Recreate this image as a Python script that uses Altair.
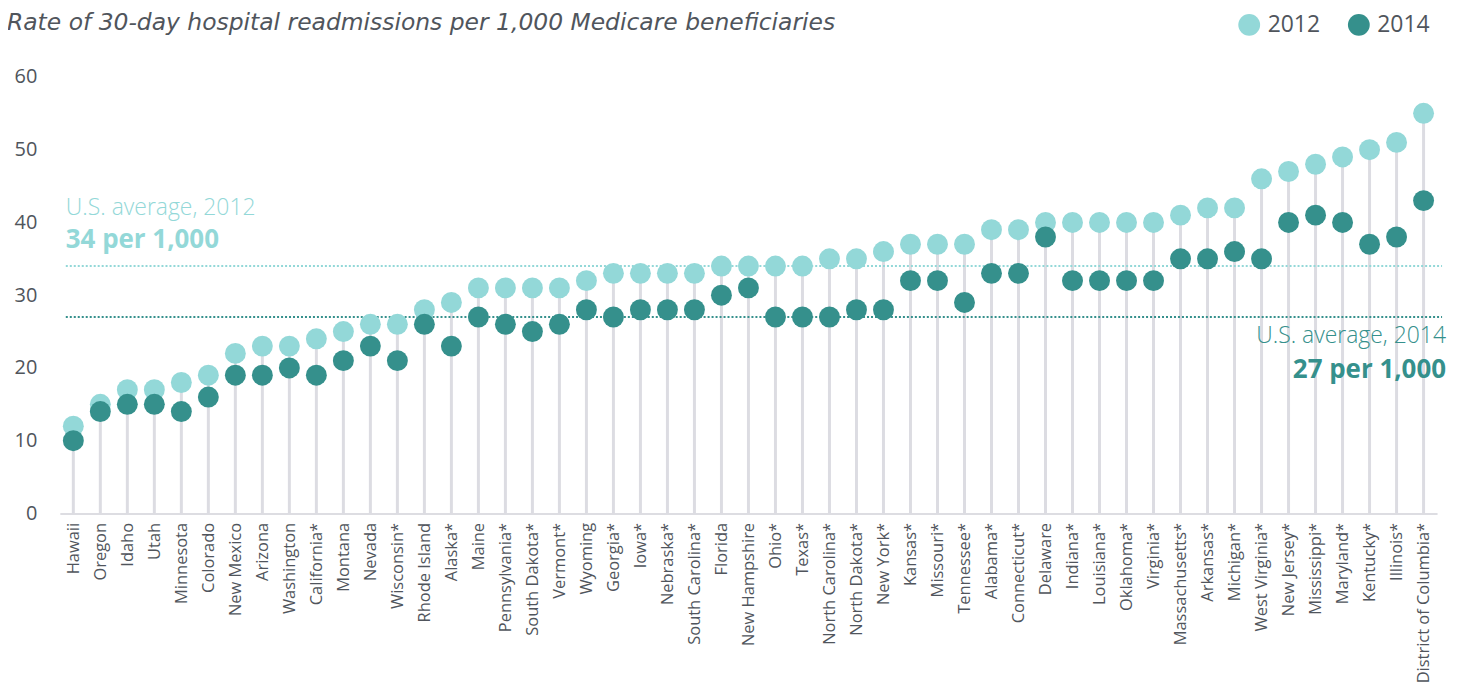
import altair as alt
import pandas as pd

# ---------------- data ----------------
states = ["Hawaii", "Oregon", "Idaho", "Utah", "Minnesota", "Colorado", "New Mexico",
          "Arizona", "Washington", "California*", "Montana", "Nevada", "Wisconsin*",
          "Rhode Island", "Alaska*", "Maine", "Pennsylvania*", "South Dakota*", "Vermont*",
          "Wyoming", "Georgia*", "Iowa*", "Nebraska*", "South Carolina*", "Florida",
          "New Hampshire", "Ohio*", "Texas*", "North Carolina*", "North Dakota*", "New York*",
          "Kansas*", "Missouri*", "Tennessee*", "Alabama*", "Connecticut*", "Delaware",
          "Indiana*", "Louisiana*", "Oklahoma*", "Virginia*", "Massachusetts*", "Arkansas*",
          "Michigan*", "West Virginia*", "New Jersey*", "Mississippi*", "Maryland*",
          "Kentucky*", "Illinois*", "District of Columbia*"]

v2012 = [12, 15, 17, 17, 18, 19, 22, 23, 23, 24, 25, 26, 26, 28, 29, 31, 31, 31, 31, 32,
         33, 33, 33, 33, 34, 34, 34, 34, 35, 35, 36, 37, 37, 37, 39, 39, 40, 40, 40, 40,
         40, 41, 42, 42, 46, 47, 48, 49, 50, 51, 55]

v2014 = [10, 14, 15, 15, 14, 16, 19, 19, 20, 19, 21, 23, 21, 26, 23, 27, 26, 25, 26, 28,
         27, 28, 28, 28, 30, 31, 27, 27, 27, 28, 28, 32, 32, 29, 33, 33, 38, 32, 32, 32,
         32, 35, 35, 36, 35, 40, 41, 40, 37, 38, 43]

years = ["2012", "2014"]
averages = [34, 27]
avg_labels = ["U.S. average, 2012", "U.S. average, 2014"]
avg_values = ["34 per 1,000", "27 per 1,000"]
y_ticks = [0, 10, 20, 30, 40, 50, 60]
title_text = "Rate of 30-day hospital readmissions per 1,000 Medicare beneficiaries"

# ---------------- style ----------------
LIGHT = "#93D8D8"
DARK = "#35908C"
TEXT = "#50555C"
STEM = "#DCDCE2"
FONT = "Open Sans"
W, H = 1382, 438

wide = pd.DataFrame({"state": states, "v2012": v2012, "v2014": v2014})
long = pd.concat([
    pd.DataFrame({"state": states, "year": years[0], "value": v2012}),
    pd.DataFrame({"state": states, "year": years[1], "value": v2014}),
], ignore_index=True)

x_enc = alt.X("state:N", sort=states, title=None,
              scale=alt.Scale(type="point", padding=0.5),
              axis=alt.Axis(labelAngle=-90, labelFontSize=16.5, labelColor=TEXT,
                            labelFont=FONT, ticks=False, domainColor="#DDDDE2",
                            domainWidth=2, labelPadding=9, labelAlign="right",
                            labelBaseline="middle", labelOverlap=False))

y_scale = alt.Scale(domain=[0, 60], nice=False)
y_axis = alt.Axis(values=y_ticks, grid=False, domain=False, ticks=False,
                  labelFontSize=20, labelPadding=23, labelColor=TEXT, labelFont=FONT)

stems = alt.Chart(wide).mark_rule(color=STEM, strokeWidth=3).encode(
    x=x_enc,
    y=alt.Y("v2012:Q", scale=y_scale, axis=y_axis, title=None),
    y2=alt.datum(0),
)

rule_2012 = alt.Chart().mark_rule(strokeDash=[2, 2], strokeWidth=2, color=LIGHT).encode(
    y=alt.datum(averages[0]), x=alt.value(6), x2=alt.value(W + 5))
rule_2014 = alt.Chart().mark_rule(strokeDash=[2, 2], strokeWidth=2, color=DARK).encode(
    y=alt.datum(averages[1]), x=alt.value(6), x2=alt.value(W + 5))

points = alt.Chart(long).mark_circle(size=441, opacity=1).encode(
    x=x_enc,
    y=alt.Y("value:Q"),
    color=alt.Color("year:N", scale=alt.Scale(domain=years, range=[LIGHT, DARK]),
                    legend=alt.Legend(title=None, orient="none", legendX=1182, legendY=-64,
                                      direction="horizontal", symbolSize=480,
                                      symbolType="circle", labelFontSize=23,
                                      labelFont=FONT, labelColor=TEXT, columnPadding=27,
                                      labelOffset=7, padding=0, symbolStrokeWidth=0,
                                      symbolOpacity=1)),
)

ann1a = alt.Chart().mark_text(align="left", baseline="alphabetic", fontSize=23,
                              fontWeight=300, color=LIGHT, font=FONT, dy=-51).encode(
    x=alt.value(6), y=alt.datum(averages[0]), text=alt.value(avg_labels[0]))
ann1b = alt.Chart().mark_text(align="left", baseline="alphabetic", fontSize=26,
                              fontWeight="bold", color=LIGHT, font=FONT, dy=-18).encode(
    x=alt.value(6), y=alt.datum(averages[0]), text=alt.value(avg_values[0]))
ann2a = alt.Chart().mark_text(align="right", baseline="alphabetic", fontSize=23,
                              fontWeight=300, color=DARK, font=FONT, dy=26).encode(
    x=alt.value(W + 9), y=alt.datum(averages[1]), text=alt.value(avg_labels[1]))
ann2b = alt.Chart().mark_text(align="right", baseline="alphabetic", fontSize=26,
                              fontWeight="bold", color=DARK, font=FONT, dy=61).encode(
    x=alt.value(W + 9), y=alt.datum(averages[1]), text=alt.value(avg_values[1]))

title = alt.Chart().mark_text(align="left", baseline="alphabetic", fontSize=23.5,
                              fontStyle="italic", color=TEXT, font="DejaVu Sans").encode(
    x=alt.value(-53), y=alt.value(-47), text=alt.value(title_text))

chart = alt.layer(stems, rule_2012, rule_2014, points, ann1a, ann1b, ann2a, ann2b, title).properties(
    width=W, height=H,
    autosize=alt.AutoSizeParams(type="none"),
    padding={"left": 52, "top": 68, "right": 20, "bottom": 172},
).configure_view(stroke=None)

chart.save("out.html", embed_options={"renderer": "svg", "actions": False})
